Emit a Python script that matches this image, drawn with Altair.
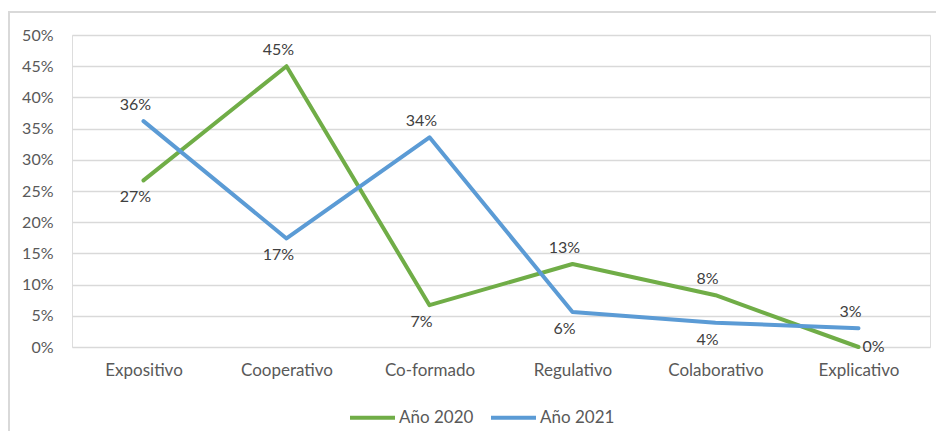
import altair as alt
import pandas as pd

categories = ["Expositivo", "Cooperativo", "Co-formado", "Regulativo", "Colaborativo", "Explicativo"]
series_names = ["Año 2020", "Año 2021"]
values_2020 = [0.267, 0.45, 0.067, 0.133, 0.083, 0.0]
values_2021 = [0.362, 0.174, 0.336, 0.056, 0.039, 0.030]
label_pos_2020 = ["below", "above", "below", "above", "above", "right"]
label_pos_2021 = ["above", "below", "above", "below", "below", "above"]
colors = ["#70AD47", "#5B9BD5"]
y_ticks = [0, 0.05, 0.10, 0.15, 0.20, 0.25, 0.30, 0.35, 0.40, 0.45, 0.50]

rows = []
for name, vals, pos in [(series_names[0], values_2020, label_pos_2020),
                        (series_names[1], values_2021, label_pos_2021)]:
    for i, (c, v, p) in enumerate(zip(categories, vals, pos)):
        rows.append({"cat": c, "serie": name, "valor": v, "pos": p, "idx": i})
df = pd.DataFrame(rows)

FONT = "Lato"

x_enc = alt.X("cat:N", sort=categories,
              scale=alt.Scale(type="point", padding=0.5),
              axis=alt.Axis(title=None, labelAngle=0, domain=False, ticks=False,
                            grid=False, labelPadding=15, labelFontSize=17,
                            labelColor="#595959", labelFont=FONT))
y_enc = alt.Y("valor:Q", scale=alt.Scale(domain=[0, 0.5], nice=False),
              axis=alt.Axis(title=None, values=y_ticks, format=".0%", domain=False,
                            ticks=False, labelPadding=19, labelFontSize=16,
                            labelOverlap=False,
                            labelColor="#595959", labelFont=FONT,
                            gridColor="#d9d9d9", gridWidth=1.3))

base = alt.Chart(df)

lines = base.mark_line(strokeWidth=4, strokeCap="round", strokeJoin="round").encode(
    x=x_enc, y=y_enc,
    color=alt.Color("serie:N", sort=series_names,
                    scale=alt.Scale(domain=series_names, range=colors),
                    legend=alt.Legend(title=None, orient="none", direction="horizontal",
                                      legendX=276, legendY=358,
                                      symbolType="stroke", symbolSize=2025,
                                      symbolStrokeWidth=4, labelFontSize=17,
                                      labelColor="#595959", labelFont=FONT,
                                      labelOffset=2, columnPadding=9,
                                      labelBaseline="middle")),
    order=alt.Order("idx:Q"),
)

def labels(pos, dx, dy, align="center"):
    return base.transform_filter(alt.datum.pos == pos).mark_text(
        fontSize=16, font=FONT, color="#404040", dx=dx, dy=dy,
        align=align, baseline="middle"
    ).encode(
        x=x_enc,
        y=y_enc,
        text=alt.Text("valor:Q", format=".0%"),
    )

above = labels("above", -8, -16)
below = labels("below", -8, 17)
right = labels("right", 4, 0, align="left")

frame_df = pd.DataFrame({"k": [0]})
frame = alt.Chart(frame_df).mark_rect(fill=None, fillOpacity=0, stroke="#d9d9d9",
                                      strokeWidth=2).encode(
    x=alt.value(-63), x2=alt.value(1100), y=alt.value(-23), y2=alt.value(700))

chart = alt.layer(frame, lines, above, below, right).properties(
    width=858, height=312,
    autosize=alt.AutoSizeParams(type="none"),
    padding={"left": 64, "top": 27, "right": 6, "bottom": 84},
).configure_view(stroke=None).configure(background="white")

chart.save("out.html", embed_options={"renderer": "svg", "actions": False})
